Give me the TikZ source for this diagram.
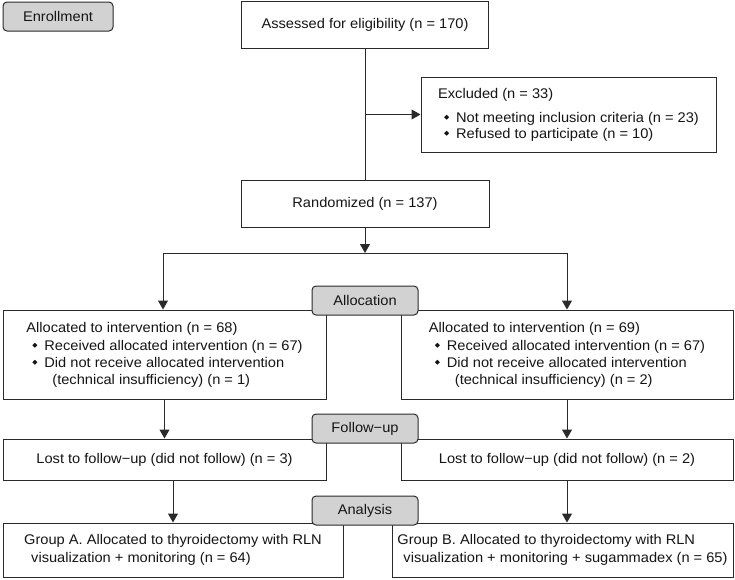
\documentclass[tikz,border=0pt]{standalone}
\usepackage{fontspec}
\setmainfont{Liberation Sans}[FakeStretch=1.045]
\usepackage{graphicx}
\usetikzlibrary{arrows.meta}
\definecolor{lc}{HTML}{2A2A2A}
\definecolor{gfill}{HTML}{D2D2D2}
\definecolor{tc}{HTML}{151515}
\newcommand\dmd{\raisebox{2.4pt}{\rotatebox{45}{\rule{3.5pt}{3.5pt}}}}
\newcommand\bul{\hspace*{6pt}\makebox[12pt][l]{\dmd}}
\begin{document}
\begin{tikzpicture}[x=1pt,y=-1pt,
  every node/.style={font=\fontsize{14}{17}\selectfont, text=tc},
  box/.style={draw=lc, line width=1pt, fill=white, inner sep=0pt, align=left},
  stage/.style={draw=lc, line width=1pt, fill=gfill, rounded corners=4pt, inner sep=0pt},
  conn/.style={draw=lc, line width=1pt},
  arr/.style={conn, -{Triangle[length=9pt,width=10pt]}}]
\useasboundingbox (0,0) rectangle (735,579);

\node[box, minimum width=247pt, minimum height=47pt] (assess) at (365,24.5) {Assessed for eligibility (n = 170)};
\node[box, minimum width=295pt, minimum height=75pt] (excl) at (568.5,114.5)
  {Excluded (n = 33)\\[7pt]
   \bul Not meeting inclusion criteria (n = 23)\\[-1pt]
   \bul Refused to participate (n = 10)};
\node[box, minimum width=248pt, minimum height=47pt] (rand) at (365,203.5) {Randomized (n = 137)};

\node[box, minimum width=323pt, minimum height=89pt] (allocL) at (164.5,354.5)
  {Allocated to intervention (n = 68)\\[1pt]
   \bul Received allocated intervention (n = 67)\\
   \bul Did not receive allocated intervention\\
   \hspace*{26pt}(technical insufficiency) (n = 1)};
\node[box, minimum width=332pt, minimum height=89pt] (allocR) at (567,354.5)
  {Allocated to intervention (n = 69)\\[1pt]
   \bul Received allocated intervention (n = 67)\\
   \bul Did not receive allocated intervention\\
   \hspace*{26pt}(technical insufficiency) (n = 2)};

\node[box, minimum width=323pt, minimum height=41pt] (lostL) at (164.5,459.5) {Lost to follow\textminus up (did not follow) (n = 3)};
\node[box, minimum width=332pt, minimum height=41pt] (lostR) at (567,459.5) {Lost to follow\textminus up (did not follow) (n = 2)};

\node[box, minimum width=340pt, minimum height=54pt] (grpA) at (173,550)
  {Group A. Allocated to thyroidectomy with RLN\\[1pt]
   \hspace*{7pt}visualization + monitoring (n = 64)};
\node[box, minimum width=341pt, minimum height=54pt] (grpB) at (562.5,550)
  {Group B. Allocated to thyroidectomy with RLN\\[1pt]
   \hspace*{6pt}visualization + monitoring + sugammadex (n = 65)};

% connectors
\draw[conn] (assess.south) -- (rand.north);
\coordinate (ex) at (assess.south |- excl.west);
\draw[arr] (ex) -- (excl.west);
\coordinate (jn) at (365,253);
\coordinate (jl) at (163,253);
\coordinate (jr) at (567,253);
\draw[arr] (rand.south) -- (jn);
\draw[conn] (jl) -- (jr);
\draw[arr] (jl) -- (jl |- allocL.north);
\draw[arr] (jr) -- (jr |- allocR.north);
\draw[arr] (allocL.south) -- (lostL.north);
\draw[arr] (allocR.south) -- (lostR.north);
\draw[arr] (lostL.south -| grpA.north) -- (grpA.north);
\draw[arr] (lostR.south) -- (lostR.south |- grpB.north);

% stage labels
\node[stage, minimum width=110pt, minimum height=29pt] (enroll) at (58,16.5) {Enrollment};
\node[stage, minimum width=106pt, minimum height=29pt] (allocation) at (365,300.5) {Allocation};
\node[stage, minimum width=106pt, minimum height=29pt] (followup) at (365,428.5) {Follow\textminus up};
\node[stage, minimum width=106pt, minimum height=29pt] (analysis) at (365,510.5) {Analysis};
\end{tikzpicture}
\end{document}
